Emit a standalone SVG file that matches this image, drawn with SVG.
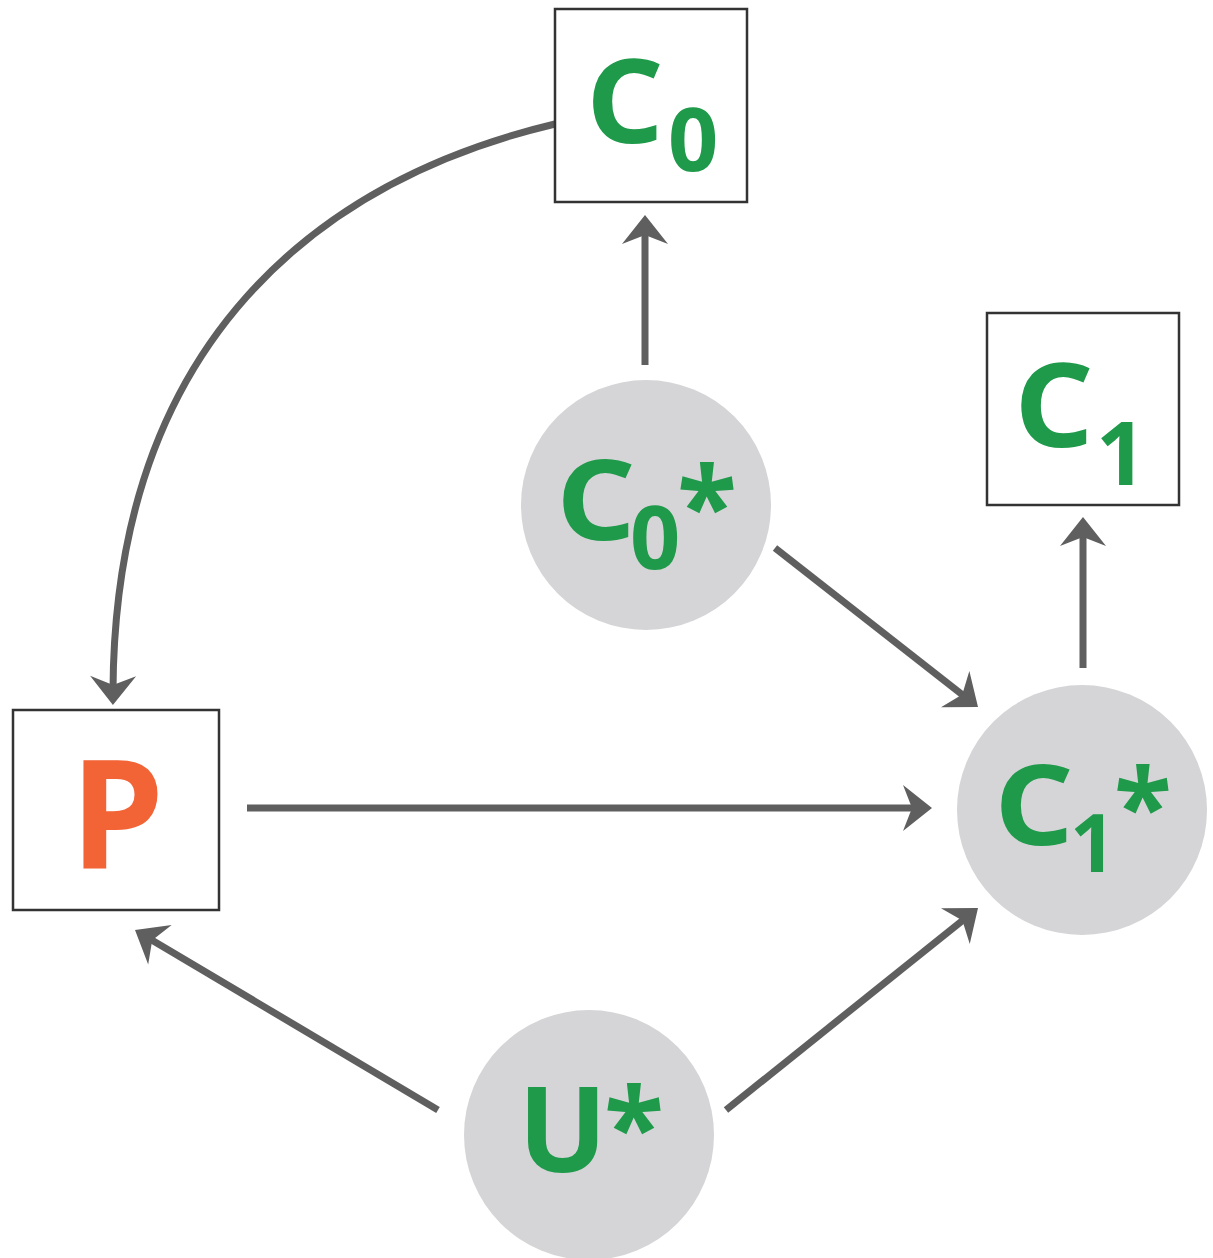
<svg xmlns="http://www.w3.org/2000/svg" width="1213" height="1258" viewBox="0 0 1213 1258">
<style>
.box{fill:#fff;stroke:#333;stroke-width:2.5}
.circ{fill:#d5d5d7}
.edge{fill:none;stroke:#5f5f5f;stroke-width:7}
.g{fill:#1f9a4b;font-family:"Open Sans","Liberation Sans",sans-serif;font-weight:bold}
.o{fill:#f26336;font-family:"Open Sans","Liberation Sans",sans-serif;font-weight:bold}
</style>
<defs>
<marker id="ah" markerUnits="userSpaceOnUse" markerWidth="60" markerHeight="60" viewBox="-30 -30 60 60" refX="0" refY="0" orient="auto">
<path d="M15,0 L-14,-23 L-5,0 L-14,23 Z" fill="#5f5f5f"/>
</marker>
</defs>
<rect width="1213" height="1258" fill="#fff"/>
<g id="connectors">
<path class="edge" d="M555,124 C320,180 115,340 113,690" marker-end="url(#ah)"/>
<line class="edge" x1="645" y1="365" x2="645" y2="230" marker-end="url(#ah)"/>
<line class="edge" x1="1083" y1="668" x2="1083" y2="532" marker-end="url(#ah)"/>
<line class="edge" x1="775" y1="548" x2="966.2" y2="697.7" marker-end="url(#ah)"/>
<line class="edge" x1="247" y1="808" x2="917" y2="808" marker-end="url(#ah)"/>
<line class="edge" x1="438" y1="1110" x2="147.9" y2="937.7" marker-end="url(#ah)"/>
<line class="edge" x1="726" y1="1110" x2="966.3" y2="917.4" marker-end="url(#ah)"/>
</g>
<g id="C0">
<rect class="box" x="555" y="9" width="192" height="193"/>
<text class="g" x="586" y="143" font-size="116" textLength="78" lengthAdjust="spacingAndGlyphs">C</text>
<text class="g" x="668" y="171" font-size="88">0</text>
</g>
<g id="C1">
<rect class="box" x="987" y="313" width="192" height="192"/>
<text class="g" x="1014" y="447" font-size="116" textLength="80" lengthAdjust="spacingAndGlyphs">C</text>
<text class="g" x="1096" y="485" font-size="88">1</text>
</g>
<g id="P">
<rect class="box" x="13" y="710" width="206" height="200"/>
<text class="o" x="70" y="868" font-size="150">P</text>
</g>
<g id="C0star">
<circle class="circ" cx="646" cy="505" r="125"/>
<text class="g" x="556" y="540" font-size="112" textLength="80" lengthAdjust="spacingAndGlyphs">C</text>
<text class="g" x="630" y="569" font-size="88">0</text>
<text class="g" x="677" y="545" font-size="110">*</text>
</g>
<g id="C1star">
<circle class="circ" cx="1082" cy="810" r="125"/>
<text class="g" x="994" y="845" font-size="112" textLength="80" lengthAdjust="spacingAndGlyphs">C</text>
<text class="g" x="1070" y="872" font-size="80">1</text>
<text class="g" x="1114" y="845" font-size="106">*</text>
</g>
<g id="Ustar">
<circle class="circ" cx="589" cy="1135" r="125"/>
<text class="g" x="518" y="1172" font-size="118">U</text>
<text class="g" x="604" y="1166" font-size="110">*</text>
</g>
</svg>
